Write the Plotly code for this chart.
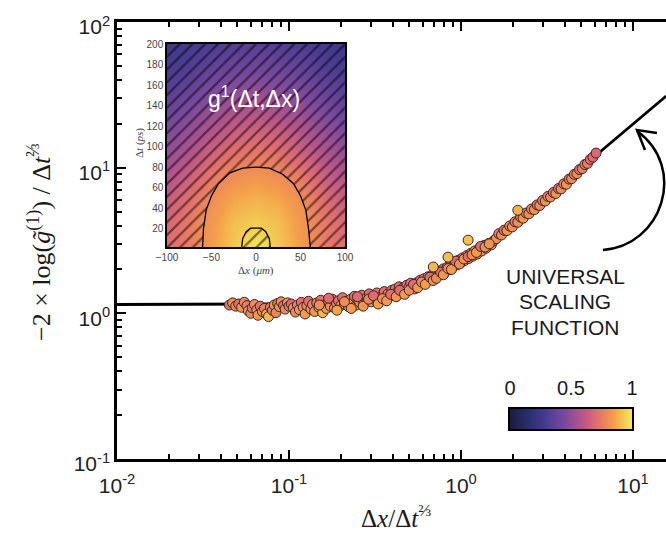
import plotly.graph_objects as go

# ---------------- universal scaling function ----------------
curve_x = [0.01, 0.03, 0.05, 0.08, 0.1, 0.15, 0.2, 0.3, 0.4, 0.5, 0.7, 1.0,
           1.5, 2.0, 3.0, 4.0, 6.0, 8.0, 10.0, 12.0, 15.6]
curve_y = [1.15, 1.15, 1.15, 1.16, 1.17, 1.19, 1.22, 1.30, 1.40, 1.52, 1.80, 2.30,
           3.15, 4.05, 6.0, 8.0, 12.0, 16.0, 20.0, 24.0, 31.0]

# ---------------- rescaled correlation data ----------------
scaled_x = [
    0.045, 0.047, 0.049, 0.051, 0.053, 0.055, 0.057, 0.058, 0.060, 0.061, 0.063, 0.065, 0.066, 0.068, 0.070,
    0.072, 0.074, 0.076, 0.078, 0.080, 0.082, 0.084, 0.086, 0.088, 0.090, 0.093, 0.095, 0.098, 0.100,
    0.103, 0.106, 0.109, 0.112, 0.115, 0.118, 0.121, 0.124, 0.127, 0.130, 0.134, 0.137, 0.141, 0.145, 0.149,
    0.153, 0.157, 0.161, 0.165, 0.170, 0.174, 0.179, 0.184, 0.189, 0.194, 0.200,
    0.205, 0.210, 0.216, 0.222, 0.228, 0.234, 0.240, 0.246, 0.252, 0.258, 0.265, 0.272, 0.279, 0.286, 0.293,
    0.300, 0.308, 0.316, 0.324, 0.332, 0.340, 0.349, 0.358, 0.367, 0.376, 0.386, 0.396,
    0.405, 0.415, 0.426, 0.437, 0.448, 0.460, 0.472, 0.484, 0.497, 0.510, 0.523, 0.537, 0.551, 0.565, 0.580,
    0.595, 0.610, 0.626, 0.643, 0.660, 0.677, 0.695, 0.713, 0.731, 0.750, 0.770, 0.790,
    0.810, 0.831, 0.853, 0.875, 0.898, 0.921, 0.945, 0.970, 0.995, 1.02, 1.05, 1.08, 1.11, 1.14, 1.17,
    1.20, 1.24, 1.28, 1.32, 1.36, 1.40, 1.45, 1.50, 1.55,
    1.60, 1.66, 1.72, 1.78, 1.85, 1.92, 1.99, 2.06, 2.14, 2.22, 2.30, 2.39, 2.48, 2.57, 2.67, 2.77, 2.87,
    2.98, 3.09, 3.20,
    3.32, 3.44, 3.56, 3.69, 3.82, 3.96, 4.10, 4.25, 4.40, 4.56, 4.72, 4.89, 5.07, 5.25, 5.44, 5.64, 5.85, 6.10,
    0.15, 0.17, 0.19, 0.21, 0.23, 0.25, 0.27, 0.29, 0.31, 0.33, 0.35, 0.37, 0.39, 0.42, 0.44, 0.47, 0.50,
    0.53, 0.56, 0.59, 0.62, 0.66, 0.69, 0.72, 0.76, 0.79, 0.84, 0.88, 0.93, 0.98, 1.04, 1.10, 1.16, 1.23,
    1.30, 1.38, 1.46,
    0.69, 0.84, 1.10, 2.14,
]
scaled_y = [
    1.14, 1.18, 1.12, 1.16, 1.10, 1.19, 1.13, 1.04, 1.00, 1.09, 1.15, 1.06, 0.97, 1.12, 1.03,
    1.08, 0.99, 0.95, 1.10, 1.05, 1.14, 1.01, 1.17, 1.11, 1.20, 1.13, 1.07, 1.18, 1.12,
    1.16, 1.09, 1.02, 1.14, 1.06, 1.19, 1.10, 0.99, 1.13, 1.21, 1.07, 1.15, 1.03, 1.18, 1.10,
    1.23, 1.01, 1.14, 1.08, 1.20, 1.12, 1.25, 1.09, 1.17, 1.22, 1.13,
    1.28, 1.16, 1.21, 1.11, 1.25, 1.18, 1.31, 1.14, 1.23, 1.19, 1.33, 1.17, 1.26, 1.22, 1.36,
    1.20, 1.29, 1.24, 1.38, 1.27, 1.22, 1.33, 1.41, 1.29, 1.36, 1.31, 1.44,
    1.37, 1.47, 1.40, 1.52, 1.43, 1.49, 1.41, 1.56, 1.50, 1.61, 1.53, 1.47, 1.62, 1.57, 1.69,
    1.60, 1.73, 1.66, 1.78, 1.70, 1.83, 1.76, 1.90, 1.81, 1.95, 1.87, 2.02,
    1.94, 2.07, 1.99, 2.18, 2.08, 2.24, 2.15, 2.32, 2.22, 2.40, 2.30, 2.49, 2.38, 2.58, 2.47,
    2.68, 2.55, 2.80, 2.68, 2.92, 2.80, 3.02, 2.95, 3.15,
    3.25, 3.52, 3.45, 3.72, 3.70, 3.98, 3.92, 4.25, 4.22, 4.58, 4.50, 4.88, 4.82, 5.20, 5.15, 5.55, 5.50,
    5.95, 5.90, 6.35,
    6.30, 6.75, 6.65, 7.20, 7.15, 7.75, 7.70, 8.35, 8.40, 9.00, 9.10, 9.70, 9.85, 10.5, 10.7, 11.4, 11.8, 12.6,
    1.14, 1.27, 1.05, 1.20, 1.08, 1.30, 1.12, 1.25, 1.32, 1.16, 1.26, 1.22, 1.35, 1.30, 1.44, 1.35, 1.44,
    1.58, 1.50, 1.64, 1.58, 1.77, 1.68, 1.74, 1.92, 1.84, 2.03, 2.00, 2.28, 2.18, 2.36, 2.45, 2.52, 2.62,
    2.88, 2.85, 3.00,
    2.08, 2.43, 3.18, 5.10,
]
scaled_g1 = [
    0.72, 0.80, 0.78, 0.71, 0.82, 0.79, 0.75, 0.84, 0.80, 0.72, 0.81, 0.77, 0.83, 0.71, 0.80,
    0.76, 0.86, 0.90, 0.79, 0.73, 0.81, 0.78, 0.74, 0.82, 0.79, 0.72, 0.80, 0.83, 0.77,
    0.70, 0.81, 0.79, 0.76, 0.82, 0.72, 0.80, 0.84, 0.78, 0.71, 0.81, 0.77, 0.83, 0.74, 0.80,
    0.72, 0.90, 0.79, 0.82, 0.73, 0.80, 0.70, 0.81, 0.77, 0.72, 0.80,
    0.72, 0.82, 0.78, 0.83, 0.74, 0.80, 0.70, 0.84, 0.77, 0.81, 0.71, 0.82, 0.75, 0.80, 0.70,
    0.83, 0.78, 0.81, 0.72, 0.79, 0.84, 0.76, 0.71, 0.82, 0.77, 0.80, 0.72,
    0.81, 0.74, 0.80, 0.71, 0.82, 0.78, 0.84, 0.72, 0.80, 0.71, 0.81, 0.85, 0.75, 0.80, 0.70,
    0.82, 0.76, 0.81, 0.72, 0.80, 0.74, 0.82, 0.71, 0.80, 0.77, 0.81, 0.73,
    0.82, 0.71, 0.80, 0.76, 0.81, 0.70, 0.80, 0.75, 0.82, 0.72, 0.80, 0.77, 0.81, 0.71, 0.82,
    0.78, 0.80, 0.74, 0.81, 0.71, 0.80, 0.76, 0.82, 0.72,
    0.81, 0.75, 0.80, 0.71, 0.82, 0.77, 0.81, 0.73, 0.80, 0.76, 0.82, 0.74, 0.80, 0.78, 0.81, 0.72, 0.80,
    0.77, 0.81, 0.76,
    0.80, 0.74, 0.81, 0.71, 0.80, 0.76, 0.82, 0.72, 0.79, 0.75, 0.80, 0.73, 0.78, 0.71, 0.76, 0.71, 0.70, 0.69,
    0.80, 0.70, 0.86, 0.80, 0.84, 0.70, 0.82, 0.78, 0.70, 0.85, 0.80, 0.83, 0.71, 0.82, 0.70, 0.84, 0.80,
    0.70, 0.83, 0.79, 0.84, 0.70, 0.82, 0.80, 0.70, 0.83, 0.79, 0.84, 0.70, 0.80, 0.82, 0.71, 0.80, 0.83,
    0.71, 0.80, 0.82,
    0.90, 0.91, 0.92, 0.88,
]

# ---------------- inset: g1(dt, dx) map ----------------
map_dx = [-100, -75, -50, -25, 0, 25, 50, 75, 100]
map_dt = [0, 25, 50, 75, 100, 125, 150, 175, 200]
map_g1 = [
    [0.70, 0.76, 0.84, 0.93, 0.99, 0.93, 0.84, 0.76, 0.70],
    [0.68, 0.75, 0.83, 0.91, 0.94, 0.91, 0.83, 0.75, 0.68],
    [0.63, 0.71, 0.80, 0.86, 0.88, 0.86, 0.80, 0.71, 0.63],
    [0.56, 0.64, 0.73, 0.79, 0.81, 0.79, 0.73, 0.64, 0.56],
    [0.49, 0.56, 0.64, 0.70, 0.72, 0.70, 0.64, 0.56, 0.49],
    [0.42, 0.48, 0.55, 0.60, 0.62, 0.60, 0.55, 0.48, 0.42],
    [0.35, 0.40, 0.46, 0.50, 0.52, 0.50, 0.46, 0.40, 0.35],
    [0.30, 0.33, 0.38, 0.41, 0.42, 0.41, 0.38, 0.33, 0.30],
    [0.25, 0.28, 0.31, 0.33, 0.34, 0.33, 0.31, 0.28, 0.25],
]
# contour boundaries of the map
outer_dx = [-60, -59, -56, -50, -42, -30, -15, 0, 15, 30, 42, 50, 56, 59, 61]
outer_dt = [2, 20, 38, 52, 64, 74, 79, 80, 79, 73, 64, 52, 38, 20, 2]
inner_dx = [-16, -15, -11, -6, 6, 11, 15, 16]
inner_dt = [2, 10, 17, 20.5, 20.5, 17, 10, 2]

# colour bar levels
cbar_levels = [0, 0.5, 1]

# ---------------- ticks ----------------
major_x = [0.01, 0.1, 1, 10]
major_x_text = ["10<sup>-2</sup>", "10<sup>-1</sup>", "10<sup>0</sup>", "10<sup>1</sup>"]
major_y = [0.1, 1, 10, 100]
major_y_text = ["10<sup>-1</sup>", "10<sup>0</sup>", "10<sup>1</sup>", "10<sup>2</sup>"]
minor_x = [m * d for d in (0.01, 0.1, 1, 10) for m in range(2, 10)]
minor_y = [m * d for d in (0.1, 1, 10) for m in range(2, 10)]

colorscale = [
    [0.00, "#1b1c40"], [0.15, "#2b2e6e"], [0.30, "#4a3c92"], [0.45, "#7d4a9e"],
    [0.60, "#bb5689"], [0.72, "#e4706c"], [0.85, "#f4a04a"], [1.00, "#f2ec5c"],
]

# page geometry (pixels) for placing annotations in paper units
W, H = 666, 535
ML, MR, MT, MB = 117, 0, 22, 76
PW, PH = W - ML - MR, H - MT - MB


def px(xp):
    return (xp - ML) / PW


def py(yp):
    return (H - MB - yp) / PH


SANS = "Arial, Liberation Sans, sans-serif"
SERIF = "Liberation Serif, Times New Roman, serif"

fig = go.Figure()

# inset heatmap and hatched regions
fig.add_trace(go.Heatmap(x=map_dx, y=map_dt, z=map_g1, colorscale=colorscale, zmin=0, zmax=1,
                         zsmooth="best", showscale=False, xaxis="x2", yaxis="y2", hoverinfo="skip"))
hatch = dict(shape="/", fgcolor="black", bgcolor="rgba(0,0,0,0)", size=9, solidity=0.25)
fig.add_trace(go.Scatter(
    x=[-100] + outer_dx + [100, 100, -100, -100],
    y=[2] + outer_dt + [2, 200, 200, 2],
    mode="none", fill="toself", fillcolor="rgba(0,0,0,0)", fillpattern=hatch,
    xaxis="x2", yaxis="y2", hoverinfo="skip"))
fig.add_trace(go.Scatter(x=inner_dx, y=inner_dt, mode="none", fill="toself",
                         fillcolor="rgba(0,0,0,0)", fillpattern=hatch,
                         xaxis="x2", yaxis="y2", hoverinfo="skip"))
fig.add_trace(go.Scatter(x=outer_dx, y=outer_dt, mode="lines", line=dict(color="black", width=1.3),
                         xaxis="x2", yaxis="y2", hoverinfo="skip"))
fig.add_trace(go.Scatter(x=inner_dx, y=inner_dt, mode="lines", line=dict(color="black", width=1.3),
                         xaxis="x2", yaxis="y2", hoverinfo="skip"))

# colour bar drawn as a thin gradient strip
fig.add_trace(go.Heatmap(x=cbar_levels, y=[0, 1], z=[cbar_levels, cbar_levels], colorscale=colorscale,
                         zmin=0, zmax=1, zsmooth="best", showscale=False,
                         xaxis="x3", yaxis="y3", hoverinfo="skip"))

# main curve and data
fig.add_trace(go.Scatter(x=curve_x, y=curve_y, mode="lines", line=dict(color="black", width=2.8)))
fig.add_trace(go.Scatter(
    x=scaled_x, y=scaled_y, mode="markers",
    marker=dict(size=10, color=scaled_g1, colorscale=colorscale, cmin=0, cmax=1,
                line=dict(color="#3a2424", width=1), showscale=False),
))

axis_common = dict(type="log", showline=True, linecolor="black", linewidth=2.5,
                   ticks="inside", ticklen=9, tickwidth=2.2, tickcolor="black",
                   showgrid=False, zeroline=False,
                   tickfont=dict(family=SANS, size=21, color="#222222"))

fig.update_layout(
    width=W, height=H, margin=dict(l=ML, r=MR, t=MT, b=MB, autoexpand=False),
    paper_bgcolor="white", plot_bgcolor="white", showlegend=False,
    xaxis=dict(**axis_common, range=[-2, -2 + PW / 172.0], mirror="ticks",
               tickvals=major_x, ticktext=major_x_text, ticklabelstandoff=6,
               minor=dict(ticks="inside", ticklen=5, tickwidth=2, tickcolor="black", tickvals=minor_x)),
    yaxis=dict(**axis_common, range=[-1, 2], mirror=False,
               tickvals=major_y, ticktext=major_y_text, ticklabelshift=5,
               minor=dict(ticks="inside", ticklen=5, tickwidth=2, tickcolor="black", tickvals=minor_y)),
    xaxis2=dict(domain=[px(167), px(345)], anchor="y2", range=[-100, 100],
                showline=True, mirror=True, linecolor="black", linewidth=1.5,
                ticks="", showgrid=False, zeroline=False,
                tickvals=[-100, -50, 0, 50, 100],
                tickfont=dict(family=SANS, size=10, color="#444444")),
    yaxis2=dict(domain=[py(247), py(44)], anchor="x2", range=[2, 200],
                showline=True, mirror=True, linecolor="black", linewidth=1.5,
                ticks="", showgrid=False, zeroline=False,
                tickvals=list(range(20, 201, 20)),
                tickfont=dict(family=SANS, size=10, color="#444444")),
    xaxis3=dict(domain=[px(510), px(632)], anchor="y3", range=[0, 1], side="top",
                showline=True, mirror=True, linecolor="black", linewidth=2,
                ticks="", showgrid=False, zeroline=False, tickvals=cbar_levels,
                ticktext=["0", "0.5", "1"], ticklabelstandoff=4,
                tickfont=dict(family=SANS, size=20, color="#1a1a1a")),
    yaxis3=dict(domain=[py(429), py(409)], anchor="x3", range=[0, 1],
                showline=True, mirror=True, linecolor="black", linewidth=2,
                ticks="", showgrid=False, zeroline=False, showticklabels=False),
)

ann = []
ann.append(dict(x=px(254), y=py(97), text="g<sup>1</sup>(Δt,Δx)",
                font=dict(family=SANS, size=23, color="white")))
for label, yy in (("UNIVERSAL", 276), ("SCALING", 301), ("FUNCTION", 327)):
    ann.append(dict(x=px(565), y=py(yy), text=label,
                    font=dict(family=SANS, size=21, color="#1a1a1a")))
ann.append(dict(x=px(396), y=py(516), text="Δ<i>x</i>/Δ<i>t</i><sup>⅔</sup>",
                font=dict(family=SERIF, size=25, color="#1a1a1a")))
ann.append(dict(x=px(40), y=py(242), textangle=-90,
                text="−2 × log(<i>g̃</i><sup>(1)</sup>) / Δ<i>t</i><sup>⅔</sup>",
                font=dict(family=SERIF, size=26, color="#1a1a1a")))
ann.append(dict(x=px(256), y=py(270), text="Δ<i>x</i> (<i>μm</i>)",
                font=dict(family=SERIF, size=11, color="#444444")))
ann.append(dict(x=px(139), y=py(143), textangle=-90, text="Δ<i>t</i> (<i>ps</i>)",
                font=dict(family=SERIF, size=11, color="#444444")))
for a in ann:
    a.update(xref="paper", yref="paper", xanchor="center", yanchor="middle", showarrow=False)
fig.update_layout(annotations=ann)


# curved arrow pointing at the scaling function
def pt(xp, yp):
    return f"{px(xp):.4f},{py(yp):.4f}"


arc = f"M {pt(603, 250)} C {pt(662, 246)} {pt(688, 168)} {pt(637, 131)}"
head = f"M {pt(657, 133)} L {pt(637, 130)} L {pt(645, 150)}"
fig.update_layout(shapes=[
    dict(type="path", xref="paper", yref="paper", path=arc, line=dict(color="black", width=2.5)),
    dict(type="path", xref="paper", yref="paper", path=head, line=dict(color="black", width=2.5)),
])

fig.write_html("out.html")
